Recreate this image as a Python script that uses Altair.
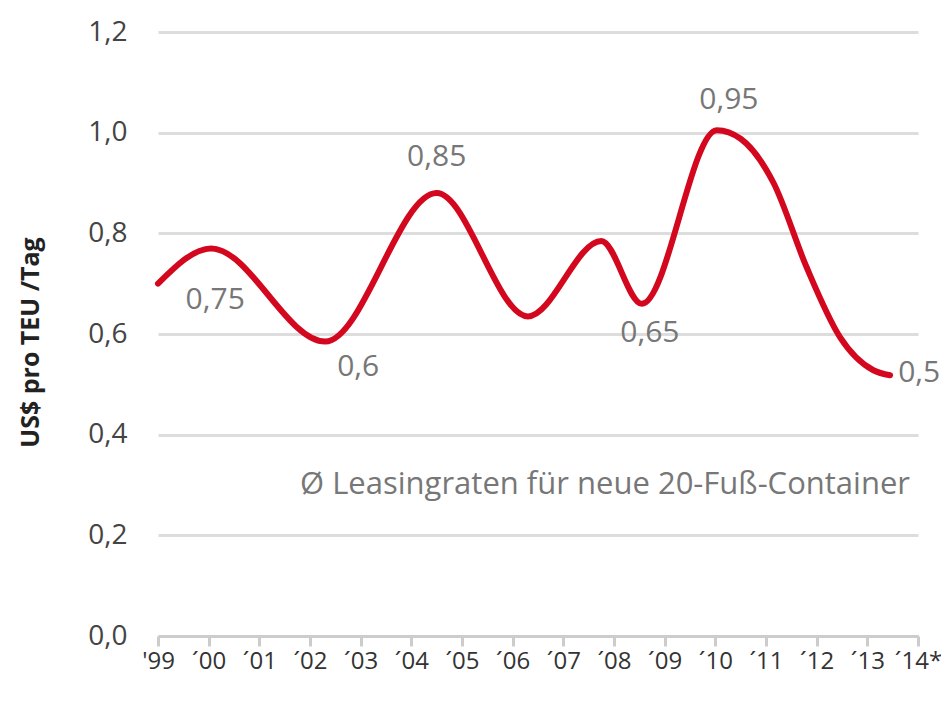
import altair as alt
import pandas as pd

# Year axis labels (index 0..15)
year_labels = ["'99", "´00", "´01", "´02", "´03", "´04", "´05", "´06", "´07",
               "´08", "´09", "´10", "´11", "´12", "´13", "´14*"]

# Points (position on year index, value in US$)
curve_x = [0.0, 1.05, 3.3, 5.5, 7.3, 8.75, 9.55, 11.03, 11.5, 12.15, 12.8, 13.46, 14.12, 14.45]
curve_y = [0.70, 0.77, 0.585, 0.88, 0.635, 0.785, 0.66, 1.005, 0.988, 0.90, 0.733, 0.594, 0.528, 0.518]

# Value labels attached to curve points
label_idx = [1, 2, 3, 6, 7, 13]
label_txt = ["0,75", "0,6", "0,85", "0,65", "0,95", "0,5"]
label_dx = [4, 33, 0, 8, 12, 8]
label_dy = [52, 25, -36, 29, -30, -2]
label_align = ["center", "center", "center", "center", "center", "left"]

y_ticks = [0.0, 0.2, 0.4, 0.6, 0.8, 1.0, 1.2]

df = pd.DataFrame({"x": curve_x, "y": curve_y})

FONT = "Open Sans"
RED = "#d3081f"
GREY_TXT = "#777777"

label_map = "[" + ",".join('"%s"' % l for l in year_labels) + "]"

x_enc = alt.X("x:Q", scale=alt.Scale(domain=[0, 15], nice=False, zero=False),
              axis=alt.Axis(values=list(range(16)), title=None,
                            labelExpr=label_map + "[round(datum.value)]",
                            grid=False, domainColor="#cccccc", domainWidth=3,
                            tickColor="#cccccc", tickWidth=3, tickSize=10,
                            labelFont=FONT, labelFontSize=24, labelColor="#333333",
                            labelPadding=3, labelFlush=False, labelOverlap=False))
y_enc = alt.Y("y:Q", scale=alt.Scale(domain=[0, 1.2], nice=False),
              axis=alt.Axis(values=y_ticks,
                            labelExpr="replace(format(datum.value, '.1f'), '.', ',')",
                            title="US$ pro TEU /Tag", titleFont=FONT, titleFontSize=25,
                            titleFontWeight="bold", titleColor="#222222",
                            titleAngle=-90, titleX=-128, titleY=310,
                            titleAlign="center", titleBaseline="middle",
                            domain=False, ticks=False, labelPadding=31,
                            labelFont=FONT, labelFontSize=28, labelColor="#444444",
                            gridColor="#dddddd", gridWidth=3))

line = alt.Chart(df).mark_line(interpolate="monotone", color=RED, strokeWidth=6,
                               strokeCap="round").encode(x=x_enc, y=y_enc)

layers = [line]
for i, t, dx, dy, al in zip(label_idx, label_txt, label_dx, label_dy, label_align):
    d = pd.DataFrame({"x": [curve_x[i]], "y": [curve_y[i]], "t": [t]})
    layers.append(alt.Chart(d).mark_text(font=FONT, fontSize=30, color=GREY_TXT,
                                         dx=dx, dy=dy, align=al, baseline="middle")
                  .encode(x="x:Q", y="y:Q", text="t:N"))

note = alt.Chart(pd.DataFrame({"t": ["Ø Leasingraten für neue 20-Fuß-Container"]})).mark_text(
    font=FONT, fontSize=31, color=GREY_TXT, align="right", baseline="middle"
).encode(x=alt.value(752), y=alt.value(453), text="t:N")
layers.append(note)

chart = alt.layer(*layers).properties(
    width=760, height=604,
    autosize=alt.AutoSizeParams(type="none"),
    padding={"left": 150, "top": 24, "right": 23, "bottom": 60},
).configure_view(stroke=None)

chart.save("out.html", embed_options={"renderer": "svg", "actions": False})
